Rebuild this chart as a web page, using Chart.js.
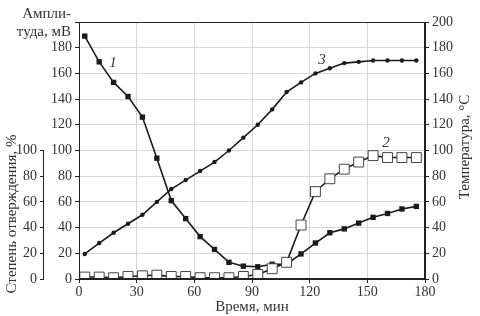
<!DOCTYPE html>
<html>
<head>
<meta charset="utf-8">
<script src="https://cdn.jsdelivr.net/npm/chart.js@4.4.1/dist/chart.umd.min.js"></script>
<style>
  html, body { margin: 0; padding: 0; background: #fff; }
  #wrap { width: 480px; height: 316px; }
</style>
</head>
<body>
<div id="wrap"><canvas id="chart"></canvas></div>
<script>
// time of each reading, min
const times = [3, 10.5, 18, 25.5, 33, 40.5, 48, 55.5, 63, 70.5, 78, 85.5,
  93, 100.5, 108, 115.5, 123, 130.5, 138, 145.5, 153, 160.5, 168, 175.5];

// curve 1: amplitude, mV
const amplitude = [189, 169, 153, 142, 126, 94, 61, 47, 33, 23, 13, 10,
  9.5, 11.5, 11.5, 19.5, 28, 36, 39, 43.5, 48, 51, 54.5, 56.5];

// curve 2: degree of cure, %
const cure = [1.5, 1.5, 1, 2, 2.5, 3, 2, 2, 1, 1, 1, 2,
  3.5, 8, 13, 42, 68, 78, 85.5, 91, 96, 94.5, 94.5, 94.5];

// curve 3: temperature, °C
const temperature = [19.5, 28, 36, 43, 50, 60, 70, 77, 84, 91, 100, 110,
  120, 132, 145.5, 153, 160, 164, 168, 169, 170, 170, 170, 170];

const xTicks = [0, 30, 60, 90, 120, 150, 180];
const cureTicks = [0, 20, 40, 60, 80, 100];

const FONT = '"Liberation Serif", "DejaVu Serif", serif';
const TEXT = '#333';

const toPoints = (vals) => vals.map((v, i) => ({ x: times[i], y: v }));

// axis titles, curve numbers, plot frame and the short cure axis line
const extras = {
  id: 'extras',
  afterDraw(chart) {
    const ctx = chart.ctx;
    const area = chart.chartArea;
    const sx = chart.scales.x;
    const sy = chart.scales.y;
    const sc = chart.scales.yCure;
    ctx.save();

    ctx.strokeStyle = '#222';
    ctx.lineWidth = 1;
    ctx.strokeRect(area.left + 0.5, area.top + 0.5, area.right - area.left - 1, area.bottom - area.top - 1);

    // cure axis only spans 0..100
    ctx.beginPath();
    ctx.moveTo(sc.right - 0.5, sc.getPixelForValue(0));
    ctx.lineTo(sc.right - 0.5, sc.getPixelForValue(100));
    ctx.stroke();

    ctx.fillStyle = TEXT;
    ctx.font = '15px ' + FONT;
    ctx.textAlign = 'right';
    ctx.textBaseline = 'middle';
    ctx.fillText('Ампли-', 71, 14);
    ctx.fillText('туда, мВ', 71, 32);

    ctx.textAlign = 'center';
    ctx.fillText('Время, мин', 252, 307);

    ctx.save();
    ctx.translate(12, 214);
    ctx.rotate(-Math.PI / 2);
    ctx.fillText('Степень отверждения, %', 0, 0);
    ctx.restore();

    ctx.save();
    ctx.translate(465, 147);
    ctx.rotate(-Math.PI / 2);
    ctx.fillText('Температура, °C', 0, 0);
    ctx.restore();

    ctx.font = 'italic 15px ' + FONT;
    ctx.fillText('1', sx.getPixelForValue(17.7), sy.getPixelForValue(168));
    ctx.fillText('2', sx.getPixelForValue(159.7), sy.getPixelForValue(106));
    ctx.fillText('3', sx.getPixelForValue(126.4), sy.getPixelForValue(170.4));
    ctx.restore();
  }
};

new Chart(document.getElementById('chart'), {
  type: 'line',
  data: {
    datasets: [
      {
        label: '2',
        data: toPoints(cure),
        yAxisID: 'yCure',
        borderColor: '#1a1a1a',
        borderWidth: 1.6,
        pointStyle: 'rect',
        pointRadius: 7,
        pointBackgroundColor: '#fff',
        pointBorderColor: '#444',
        pointBorderWidth: 1,
        tension: 0
      },
      {
        label: '1',
        data: toPoints(amplitude),
        yAxisID: 'y',
        borderColor: '#1a1a1a',
        borderWidth: 1.6,
        pointStyle: 'rect',
        pointRadius: 3.8,
        pointBackgroundColor: '#1a1a1a',
        pointBorderColor: '#1a1a1a',
        pointBorderWidth: 0,
        tension: 0
      },
      {
        label: '3',
        data: toPoints(temperature),
        yAxisID: 'yTemp',
        borderColor: '#1a1a1a',
        borderWidth: 1.6,
        pointStyle: 'circle',
        pointRadius: 2.2,
        pointBackgroundColor: '#1a1a1a',
        pointBorderColor: '#1a1a1a',
        pointBorderWidth: 0,
        tension: 0
      }
    ]
  },
  options: {
    responsive: true,
    maintainAspectRatio: false,
    animation: false,
    events: [],
    layout: { padding: { top: 22, right: 0, bottom: 0, left: 0 } },
    plugins: {
      legend: { display: false },
      tooltip: { enabled: false }
    },
    scales: {
      x: {
        type: 'linear',
        min: 0,
        max: 180,
        afterBuildTicks: (s) => { s.ticks = xTicks.map(v => ({ value: v })); },
        afterFit: (s) => { s.height = 37; },
        ticks: { color: TEXT, font: { family: FONT, size: 14 }, padding: 1, maxRotation: 0 },
        grid: { color: '#d6d6d6', tickColor: '#222', tickLength: 4 },
        border: { color: '#222' }
      },
      y: {
        position: 'left',
        min: 0,
        max: 200,
        weight: 0,
        afterFit: (s) => { s.width = 35; },
        ticks: {
          stepSize: 20,
          color: TEXT,
          font: { family: FONT, size: 14 },
          padding: 3,
          callback: (v) => (v === 200 ? '' : v)
        },
        grid: { color: '#d6d6d6', tickColor: '#222', tickLength: 4 },
        border: { color: '#222' }
      },
      yCure: {
        position: 'left',
        min: 0,
        max: 200,
        weight: 1,
        afterBuildTicks: (s) => { s.ticks = cureTicks.map(v => ({ value: v })); },
        afterFit: (s) => { s.width = 44; },
        ticks: { color: TEXT, font: { family: FONT, size: 14 }, padding: 3 },
        grid: { drawOnChartArea: false, tickColor: '#222', tickLength: 4 },
        border: { display: false }
      },
      yTemp: {
        position: 'right',
        min: 0,
        max: 200,
        afterFit: (s) => { s.width = 55; },
        ticks: { stepSize: 20, color: TEXT, font: { family: FONT, size: 14 }, padding: 3 },
        grid: { drawOnChartArea: false, tickColor: '#222', tickLength: 4 },
        border: { color: '#222' }
      }
    }
  },
  plugins: [extras]
});
</script>
</body>
</html>
